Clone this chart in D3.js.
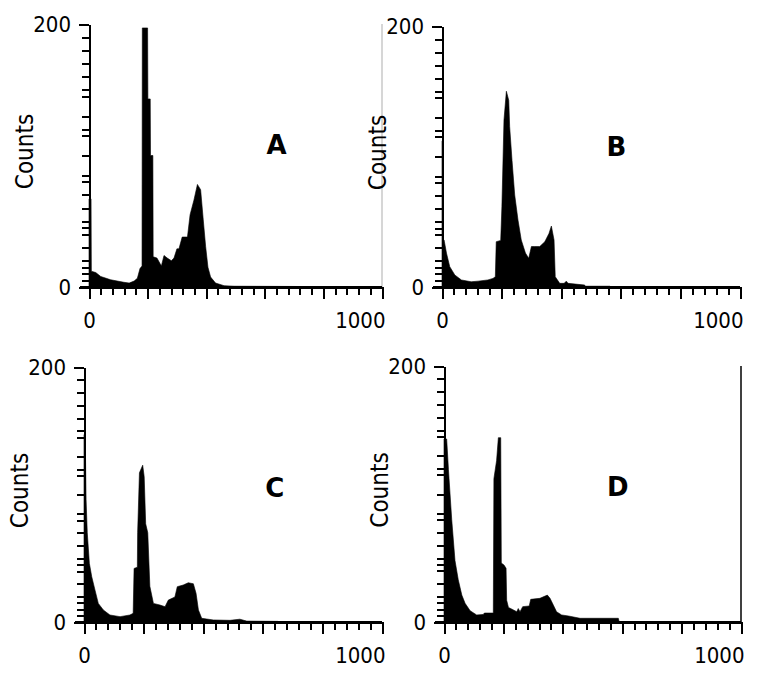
<!DOCTYPE html>
<html>
<head>
<meta charset="utf-8">
<script src="https://cdn.jsdelivr.net/npm/d3@7"></script>
<style>
body { margin: 0; background: #fff; }
svg text { font-family: "DejaVu Sans Condensed", "DejaVu Sans", sans-serif; font-stretch: condensed; fill: #000; }
.letter { font-family: "DejaVu Sans", sans-serif; font-stretch: normal; font-weight: bold; }
.axis path, .axis line { stroke: #000; stroke-width: 2; shape-rendering: crispEdges; }
</style>
</head>
<body>
<svg class="main" width="758" height="677"></svg>
<script>
// histogram values: channel, counts
var chA  = [0, 7, 8, 23, 40, 74, 119, 137, 154, 165, 174, 181, 182, 200, 201, 209, 210, 218, 219, 232, 247, 256, 267, 281, 290, 300, 307, 318, 336, 345, 358, 370, 381, 390, 398, 406, 415, 432, 461, 495, 700, 900];
var cntA = [67, 67, 12, 11, 8, 5.5, 3.6, 3, 4.5, 6.6, 14, 16, 197, 197, 143, 143, 100, 100, 23, 22, 16, 24, 22, 20, 22, 29, 29, 38, 38, 55, 66, 78, 74, 51, 31, 15, 7.6, 3, 1, 0.6, 0.4, 0];

var chB  = [0, 3, 4, 7, 15, 26, 43, 65, 98, 121, 154, 171, 179, 182, 197, 201, 208, 216, 224, 227, 235, 244, 255, 266, 280, 291, 300, 311, 328, 345, 359, 367, 376, 380, 395, 410, 417, 423, 479, 480, 564, 565];
var cntB = [112, 112, 36, 36, 26, 15.6, 9.2, 5.4, 4, 4.5, 5.4, 6.6, 7.8, 34.7, 35.7, 61.5, 128, 150, 143, 123, 97, 70.5, 51.3, 36, 26, 22, 31, 31, 31, 34.7, 41, 46.7, 36, 7.9, 2.8, 2.8, 4.5, 2.8, 1.5, 0.6, 0.6, 0];

var chC  = [0, 4, 7, 11, 18, 26, 37, 48, 65, 87, 121, 154, 165, 168, 179, 180, 186, 197, 202, 207, 214, 221, 233, 255, 272, 283, 305, 313, 333, 350, 367, 376, 384, 395, 434, 490, 523, 546, 650, 660];
var cntC = [147, 147, 96, 70, 46, 35.5, 25, 14.6, 9.4, 5.5, 4.2, 5.5, 6.8, 42, 43, 70, 117, 123, 114, 77, 70, 28, 14.6, 13.3, 12, 17.2, 19.6, 27.7, 29, 30.8, 30, 22.5, 9.4, 2.9, 1.6, 1.3, 2.2, 0.7, 0.5, 0];

var chD  = [0, 9, 15, 26, 37, 48, 60, 71, 88, 110, 132, 136, 166, 168, 177, 183, 191, 193, 202, 209, 211, 217, 234, 245, 250, 256, 265, 287, 292, 323, 348, 357, 368, 379, 396, 419, 458, 587, 590];
var cntD = [143, 143, 119, 80, 48, 33, 21, 14.6, 8.8, 5.5, 5.9, 7, 7, 112, 126, 144, 144, 46, 44.5, 42, 17, 11.4, 9.4, 8, 10.5, 8, 12, 12.5, 17.7, 18.5, 21, 18.5, 13.3, 8, 5.5, 4.7, 2.9, 2.9, 0];

var panelNames = ["A", "B", "C", "D"];
var yMinorTicks = [0, 5, 10, 15, 20, 30, 40, 45, 50, 60, 70, 80, 85, 100, 115, 120, 130, 145, 150, 160, 170, 180, 190, 200];
var yMajorTicks = [0, 200];
var xMajorTicks = [0, 200, 400, 600, 800, 1000];
var xLabels = [0, 1000];

var series = [[chA, cntA], [chB, cntB], [chC, cntC], [chD, cntD]];

// where each panel sits on the page
var layout = [
    {x0: 89,  x1: 382, top: 24,  bot: 287, frame: "#c8c8c8"},
    {x0: 442, x1: 740, top: 26,  bot: 287, frame: null},
    {x0: 84,  x1: 382, top: 367, bot: 622, frame: null},
    {x0: 444, x1: 741, top: 366, bot: 622, frame: "#000"}
];

var svg = d3.select("svg.main");

for (var i = 0; i < 4; i++) {
    drawPanel(i);
}

function drawPanel(i) {
    var L = layout[i];
    var ch = series[i][0], cnt = series[i][1];
    var pts = ch.map(function (c, j) { return [c, cnt[j]]; });

    var x = d3.scaleLinear().domain([0, 1000]).range([L.x0, L.x1]);
    var y = d3.scaleLinear().domain([0, 200]).range([L.bot, L.top]);

    var g = svg.append("g");

    if (L.frame) {
        g.append("line")
            .attr("x1", L.x1).attr("x2", L.x1)
            .attr("y1", L.top).attr("y2", L.bot)
            .attr("stroke", L.frame)
            .attr("stroke-width", 1.5);
    }

    var area = d3.area()
        .x(function (d) { return x(d[0]); })
        .y0(y(0))
        .y1(function (d) { return y(d[1]); });

    g.append("path")
        .datum(pts)
        .attr("d", area)
        .attr("fill", "#000")
        .attr("stroke", "#000")
        .attr("stroke-width", 0.6);

    // y axis: minor ticks, then longer major ticks with labels
    g.append("g")
        .attr("class", "axis")
        .attr("transform", "translate(" + L.x0 + ",0)")
        .call(d3.axisLeft(y).tickValues(yMinorTicks).tickSize(7).tickSizeOuter(0).tickFormat(""));

    var yMaj = g.append("g")
        .attr("class", "axis")
        .attr("transform", "translate(" + L.x0 + ",0)")
        .call(d3.axisLeft(y).tickValues(yMajorTicks).tickSize(10).tickSizeOuter(0).tickPadding(8));
    yMaj.select(".domain").remove();
    yMaj.selectAll("text").attr("font-size", 22).style("font-family", null);

    // x axis
    g.append("g")
        .attr("class", "axis")
        .attr("transform", "translate(0," + L.bot + ")")
        .call(d3.axisBottom(x).tickValues(d3.range(0, 1001, 40)).tickSize(8).tickSizeOuter(0).tickFormat(""));

    var xMaj = g.append("g")
        .attr("class", "axis")
        .attr("transform", "translate(0," + L.bot + ")")
        .call(d3.axisBottom(x).tickValues(xMajorTicks).tickSize(12).tickSizeOuter(0).tickPadding(13)
            .tickFormat(function (d) { return xLabels.indexOf(d) >= 0 ? d : ""; }));
    xMaj.select(".domain").remove();
    xMaj.selectAll("text").attr("font-size", 22)
        .attr("text-anchor", function (d) { return d == 1000 ? "end" : "middle"; })
        .attr("dx", function (d) { return d == 1000 ? 3 : 0; });

    // extend the x axis line a bit to the left like the original
    g.append("line")
        .attr("x1", L.x0 - 9).attr("x2", L.x1)
        .attr("y1", L.bot).attr("y2", L.bot)
        .attr("stroke", "#000").attr("stroke-width", 2);

    g.append("text")
        .attr("transform", "translate(" + (L.x0 - 56) + "," + ((L.top + L.bot) / 2 - 4) + ") rotate(-90)")
        .attr("text-anchor", "middle")
        .attr("font-size", 24)
        .text("Counts");

    g.append("text")
        .attr("class", "letter")
        .attr("x", x(i % 2 == 0 ? 640 : 585))
        .attr("y", L.top + 130)
        .attr("text-anchor", "middle")
        .attr("font-size", 26)
        .text(panelNames[i]);
}
</script>
</body>
</html>
